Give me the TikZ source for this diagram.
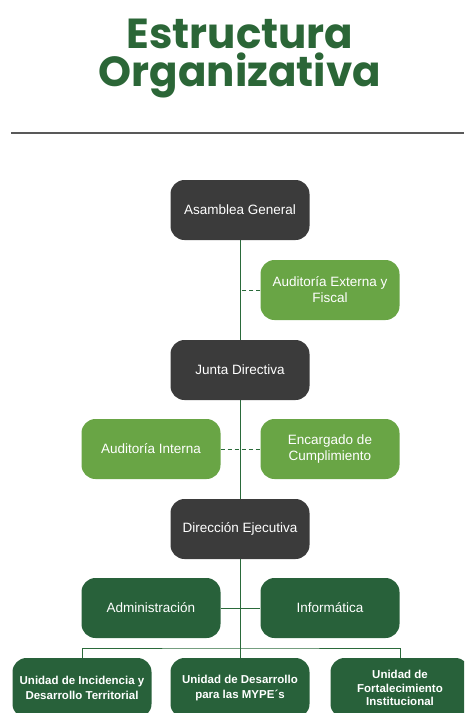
\documentclass[tikz,border=0pt]{standalone}
\usepackage{fontspec}
\setmainfont{Liberation Sans}
\newfontfamily\titlefont{Poppins}
\definecolor{titlegreen}{HTML}{2B6637}
\definecolor{boxgray}{HTML}{3B3B3B}
\definecolor{lightgreen}{HTML}{69A545}
\definecolor{darkgreen}{HTML}{28613A}
\definecolor{linegreen}{HTML}{2A6A3A}

\begin{document}
\begin{tikzpicture}[x=1pt, y=-1pt,
  box/.style={rounded corners=14pt, minimum width=139pt, minimum height=60pt, align=center, text=white, inner sep=2pt, font=\fontsize{13.5}{16}\selectfont},
  graybox/.style={box, fill=boxgray},
  greenbox/.style={box, fill=lightgreen},
  darkbox/.style={box, fill=darkgreen},
  unitbox/.style={darkbox, font=\bfseries\fontsize{11.5}{15}\selectfont},
  link/.style={linegreen, line width=0.9pt},
  dashlink/.style={link, dashed, dash pattern=on 4pt off 3pt}]
\useasboundingbox (0,0) rectangle (464,713);
\clip (0,0) rectangle (464,713);
%\draw[black, thick] (0,0) rectangle (464,713);
\node[anchor=base, text=titlegreen, inner sep=0pt, font=\titlefont\bfseries\fontsize{42}{42}\selectfont] (titulo1) at (240,48) {Estructura};
\node[anchor=base, text=titlegreen, inner sep=0pt, font=\titlefont\bfseries\fontsize{42}{42}\selectfont] (titulo2) at (240,86) {Organizativa};
\draw [gray!70!black, line width=1.2pt] (11,133) -- (464,133);

\node[graybox] (asamblea) at (240,210) {Asamblea General};
\node[greenbox] (externa) at (330,290) {Auditoría Externa y\\Fiscal};
\node[graybox] (junta) at (240,370) {Junta Directiva};
\node[greenbox] (interna) at (151,449) {Auditoría Interna};
\node[greenbox] (cumplimiento) at (330,449) {Encargado de\\Cumplimiento};
\node[graybox] (direccion) at (240,529) {Dirección Ejecutiva};
\node[darkbox] (admin) at (151,608) {Administración};
\node[darkbox] (informatica) at (330,608) {Informática};
\node[unitbox] (incidencia) at (82,688) {Unidad de Incidencia y\\Desarrollo Territorial};
\node[unitbox] (mype) at (240,688) {Unidad de Desarrollo\\para las MYPE´s};
\node[unitbox, font=\bfseries\fontsize{11.5}{13.5}\selectfont] (fortalecimiento) at (400,688) {Unidad de\\Fortalecimiento\\Institucional};

% tronco
\coordinate (bus) at (240,648);
\draw [link] (asamblea) -- (junta);
\draw [link] (junta) -- (direccion);
\draw [link] (direccion) -- (bus);
\draw [dashlink] (externa.west) -- (externa.west -| asamblea.south);
\draw [dashlink] (interna) -- (cumplimiento);
\draw [link] (admin) -- (informatica);
\draw [link] (incidencia.north) |- (bus) -| (fortalecimiento.north);
\draw [link] (bus) -- (mype);
\end{tikzpicture}
\end{document}
